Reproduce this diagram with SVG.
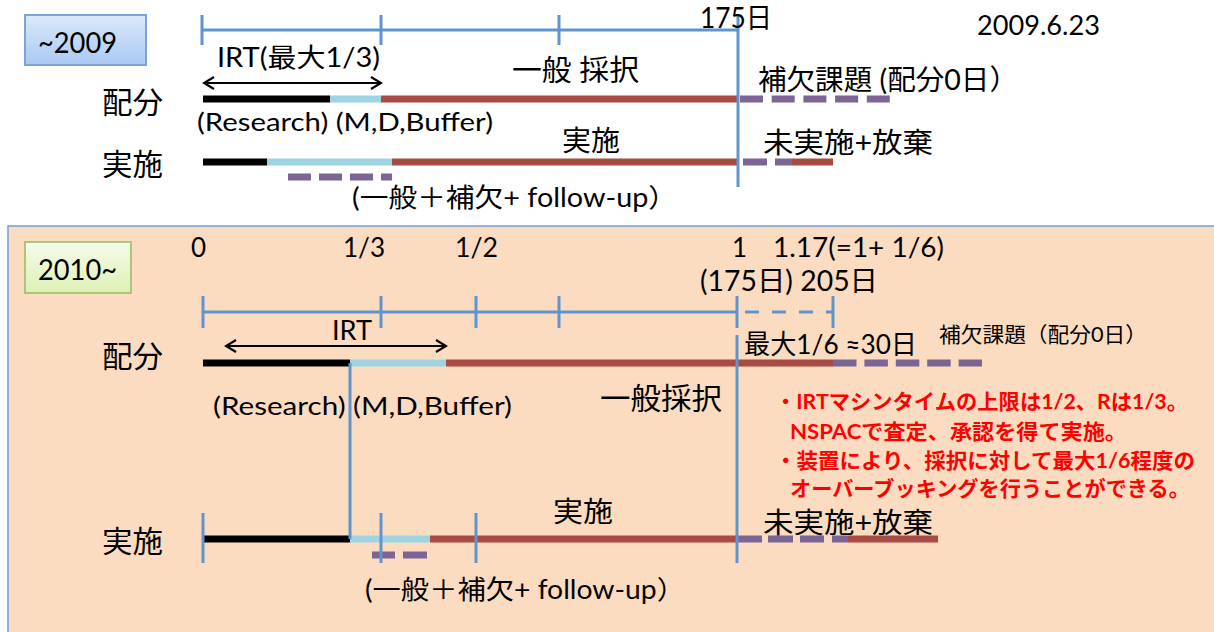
<svg xmlns="http://www.w3.org/2000/svg" width="1214" height="632" viewBox="0 0 1214 632">
<defs>
<linearGradient id="gBlue" x1="0" y1="0" x2="0" y2="1"><stop offset="0" stop-color="#DCE9FB"/><stop offset="1" stop-color="#A9C9F2"/></linearGradient>
<linearGradient id="gGreen" x1="0" y1="0" x2="0" y2="1"><stop offset="0" stop-color="#F6FCEB"/><stop offset="1" stop-color="#DDF0B4"/></linearGradient>
<marker id="ah" markerUnits="userSpaceOnUse" markerWidth="14" markerHeight="14" refX="12" refY="7" orient="auto-start-reverse" viewBox="0 0 14 14">
<path d="M2,1 L12,7 L2,13" fill="none" stroke="#000" stroke-width="2.2"/>
</marker>
<style>
text{font-family:Lato,"Noto Sans CJK JP",sans-serif;fill:#000}
.tl{stroke:#5E95CF;stroke-width:3;fill:none}
.bar{stroke-width:7;fill:none}
.k{stroke:#000}
.lb{stroke:#9DD4E3}
.rd{stroke:#A84B44}
.pp{stroke:#7A6595}
.red{fill:#FF0000;font-weight:bold;font-size:21px}
.arr{stroke:#000;stroke-width:2;fill:none;marker-start:url(#ah);marker-end:url(#ah)}
</style>
</defs>

<g id="panel2010">
<rect x="8" y="226" width="1214" height="420" fill="#FCDCC1" stroke="#6F9FD8" stroke-width="1.5"/>
</g>

<g id="box2009">
<rect x="25" y="15" width="121" height="50" fill="url(#gBlue)" stroke="#7DA4D6" stroke-width="2"/>
<text x="38" y="53" font-size="29" textLength="79" lengthAdjust="spacingAndGlyphs">~2009</text>
</g>
<g id="box2010">
<rect x="25" y="242" width="106" height="51" fill="url(#gGreen)" stroke="#A9C67A" stroke-width="2"/>
<text x="38" y="280" font-size="29" textLength="79" lengthAdjust="spacingAndGlyphs">2010~</text>
</g>

<g id="connectors">
<line class="tl" x1="202" y1="30" x2="738" y2="30"/>
<line class="tl" x1="202" y1="15" x2="202" y2="45"/>
<line class="tl" x1="381" y1="15" x2="381" y2="45"/>
<line class="tl" x1="559" y1="15" x2="559" y2="45"/>
<line class="arr" x1="204" y1="83" x2="381" y2="83"/>
<line class="bar k" x1="203" y1="99" x2="330" y2="99"/>
<line class="bar lb" x1="330" y1="99" x2="381" y2="99"/>
<line class="bar rd" x1="381" y1="99" x2="738" y2="99"/>
<line class="bar pp" x1="740" y1="99" x2="890" y2="99" stroke-dasharray="23 8.7"/>
<line class="bar k" x1="203" y1="162" x2="267" y2="162"/>
<line class="bar lb" x1="267" y1="162" x2="392" y2="162"/>
<line class="bar rd" x1="392" y1="162" x2="737" y2="162"/>
<line class="bar pp" x1="743" y1="162" x2="767" y2="162"/>
<line class="bar pp" x1="775" y1="162" x2="792" y2="162"/>
<line class="bar rd" x1="792" y1="162" x2="833" y2="162"/>
<line class="bar pp" x1="288" y1="177" x2="392" y2="177" stroke-dasharray="23 8"/>
<line class="tl" x1="738" y1="15" x2="738" y2="187"/>

<line class="tl" x1="203" y1="312" x2="737" y2="312"/>
<line class="tl" x1="745" y1="312" x2="833" y2="312" stroke-dasharray="14 13"/>
<line class="tl" x1="203" y1="296" x2="203" y2="328"/>
<line class="tl" x1="381" y1="296" x2="381" y2="328"/>
<line class="tl" x1="476" y1="296" x2="476" y2="328"/>
<line class="tl" x1="559" y1="296" x2="559" y2="328"/>
<line class="tl" x1="737" y1="296" x2="737" y2="328"/>
<line class="tl" x1="833" y1="296" x2="833" y2="328"/>
<line class="arr" x1="226" y1="346" x2="446" y2="346"/>
<line class="bar k" x1="203" y1="363" x2="350" y2="363"/>
<line class="bar lb" x1="350" y1="363" x2="446" y2="363"/>
<line class="bar rd" x1="446" y1="363" x2="833" y2="363"/>
<line class="bar pp" x1="833" y1="363" x2="982" y2="363" stroke-dasharray="23.5 7.9"/>
<line class="bar k" x1="203" y1="539" x2="350" y2="539"/>
<line class="bar lb" x1="350" y1="539" x2="430" y2="539"/>
<line class="bar rd" x1="430" y1="539" x2="737" y2="539"/>
<line class="bar pp" x1="738" y1="539" x2="762" y2="539"/>
<line class="bar pp" x1="768" y1="539" x2="793" y2="539"/>
<line class="bar pp" x1="800" y1="539" x2="824" y2="539"/>
<line class="bar pp" x1="832" y1="539" x2="848" y2="539"/>
<line class="bar rd" x1="848" y1="539" x2="938" y2="539"/>
<line class="bar pp" x1="372" y1="555" x2="395" y2="555"/>
<line class="bar pp" x1="403" y1="555" x2="427" y2="555"/>
<line class="tl" x1="350" y1="363" x2="350" y2="539"/>
<line class="tl" x1="737" y1="335" x2="737" y2="563"/>
<line class="tl" x1="203" y1="513" x2="203" y2="563"/>
<line class="tl" x1="381" y1="513" x2="381" y2="563"/>
<line class="tl" x1="476" y1="513" x2="476" y2="563"/>
</g>

<g id="labels2009">
<text x="700" y="28" font-size="28" textLength="72" lengthAdjust="spacingAndGlyphs">175日</text>
<text x="977" y="35" font-size="26" textLength="123" lengthAdjust="spacingAndGlyphs">2009.6.23</text>
<text x="217" y="67" font-size="26" textLength="163" lengthAdjust="spacingAndGlyphs">IRT(最大1/3)</text>
<text x="102" y="113" font-size="30" textLength="61" lengthAdjust="spacingAndGlyphs">配分</text>
<text x="512" y="81" font-size="29" textLength="127" lengthAdjust="spacingAndGlyphs">一般 採択</text>
<text x="758" y="90" font-size="28" textLength="260" lengthAdjust="spacingAndGlyphs">補欠課題 (配分0日）</text>
<text x="197" y="131" font-size="25" textLength="296" lengthAdjust="spacingAndGlyphs">(Research) (M,D,Buffer)</text>
<text x="102" y="175" font-size="30" textLength="61" lengthAdjust="spacingAndGlyphs">実施</text>
<text x="562" y="151" font-size="28" textLength="58" lengthAdjust="spacingAndGlyphs">実施</text>
<text x="763" y="153" font-size="28" textLength="170" lengthAdjust="spacingAndGlyphs">未実施+放棄</text>
<text x="352" y="207" font-size="26" textLength="325" lengthAdjust="spacingAndGlyphs">(一般＋補欠+ follow-up）</text>
</g>

<g id="labels2010">
<text x="191" y="257" font-size="26">0</text>
<text x="343" y="257" font-size="26" textLength="42" lengthAdjust="spacingAndGlyphs">1/3</text>
<text x="455" y="257" font-size="26" textLength="43" lengthAdjust="spacingAndGlyphs">1/2</text>
<text x="732" y="257" font-size="26">1</text>
<text x="773" y="257" font-size="26" textLength="171" lengthAdjust="spacingAndGlyphs">1.17(=1+ 1/6)</text>
<text x="700" y="291" font-size="28" textLength="178" lengthAdjust="spacingAndGlyphs">(175日) 205日</text>
<text x="332" y="340" font-size="26" textLength="40" lengthAdjust="spacingAndGlyphs">IRT</text>
<text x="102" y="367" font-size="30" textLength="61" lengthAdjust="spacingAndGlyphs">配分</text>
<text x="744" y="354" font-size="27" textLength="173" lengthAdjust="spacingAndGlyphs">最大1/6 ≈30日</text>
<text x="939" y="342" font-size="21" textLength="208" lengthAdjust="spacingAndGlyphs">補欠課題（配分0日）</text>
<text x="213" y="415" font-size="25" textLength="299" lengthAdjust="spacingAndGlyphs">(Research) (M,D,Buffer)</text>
<text x="600" y="409" font-size="30" textLength="122" lengthAdjust="spacingAndGlyphs">一般採択</text>
<text x="102" y="552" font-size="30" textLength="61" lengthAdjust="spacingAndGlyphs">実施</text>
<text x="553" y="522" font-size="28" textLength="60" lengthAdjust="spacingAndGlyphs">実施</text>
<text x="763" y="533" font-size="28" textLength="170" lengthAdjust="spacingAndGlyphs">未実施+放棄</text>
<text x="365" y="599" font-size="26" textLength="320" lengthAdjust="spacingAndGlyphs">(一般＋補欠+ follow-up）</text>
</g>

<g id="notes">
<text class="red" x="775" y="409" textLength="413" lengthAdjust="spacingAndGlyphs">・IRTマシンタイムの上限は1/2、Rは1/3。</text>
<text class="red" x="790" y="439" textLength="337" lengthAdjust="spacingAndGlyphs">NSPACで査定、承認を得て実施。</text>
<text class="red" x="775" y="468" textLength="420" lengthAdjust="spacingAndGlyphs">・装置により、採択に対して最大1/6程度の</text>
<text class="red" x="790" y="496" textLength="400" lengthAdjust="spacingAndGlyphs">オーバーブッキングを行うことができる。</text>
</g>
</svg>
